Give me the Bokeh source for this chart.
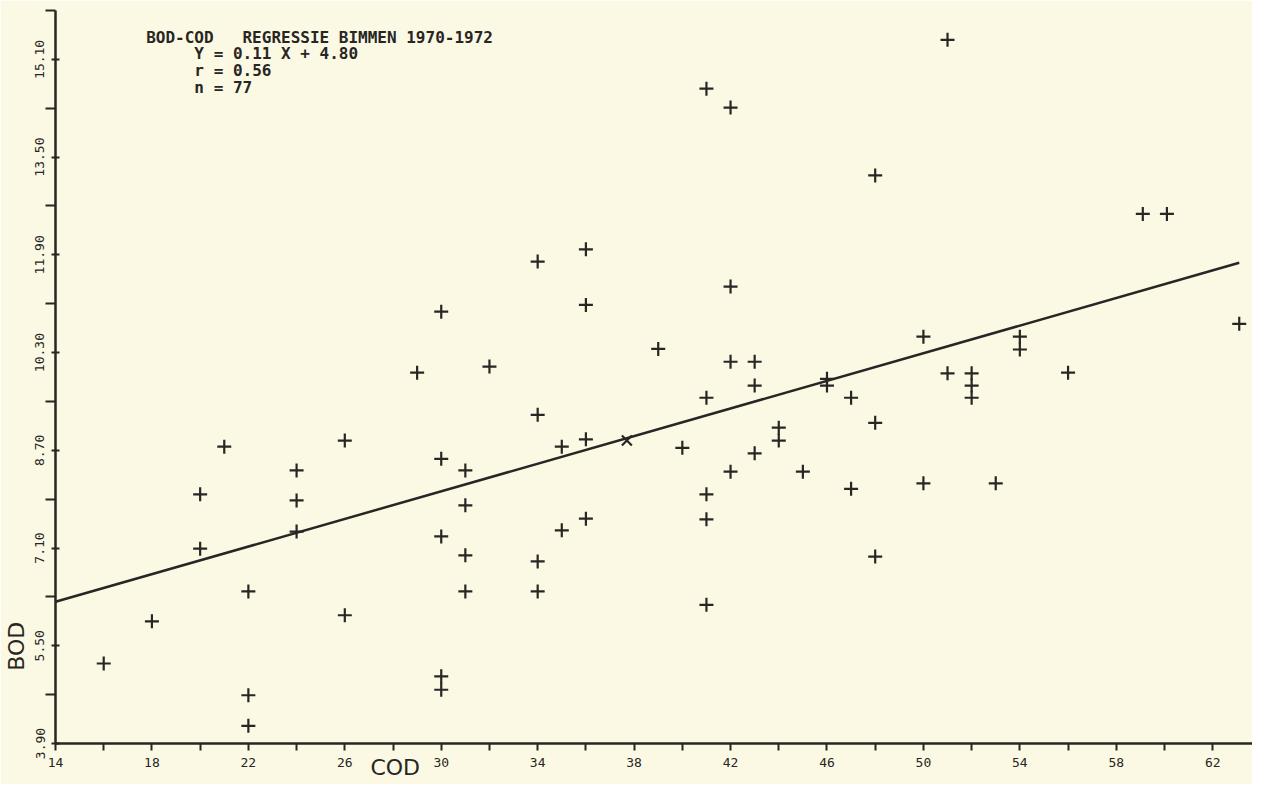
from bokeh.plotting import figure
from bokeh.models import FixedTicker, Label, Range1d, PrintfTickFormatter
from bokeh.embed import file_html
from bokeh.resources import INLINE

# ---- data ----
cod = [16.0, 18.0, 20.0, 20.0, 21.0, 22.0, 22.0, 22.0, 24.0, 24.0,
       24.0, 26.0, 26.0, 29.0, 30.0, 30.0, 30.0, 30.0, 30.0, 31.0,
       31.0, 31.0, 31.0, 32.0, 34.0, 34.0, 34.0, 34.0, 35.0, 35.0,
       36.0, 36.0, 36.0, 36.0, 39.0, 40.0, 41.0, 41.0, 41.0, 41.0,
       41.0, 42.0, 42.0, 42.0, 42.0, 43.0, 43.0, 43.0, 44.0, 44.0,
       45.0, 46.0, 46.0, 47.0, 47.0, 48.0, 48.0, 48.0, 50.0, 50.0,
       51.0, 51.0, 52.0, 52.0, 52.0, 53.0, 54.0, 54.0, 56.0, 59.1,
       60.1, 63.1]
bod = [5.21, 5.90, 7.09, 7.98, 8.76, 6.39, 4.69, 4.19, 8.37, 7.88,
       7.37, 8.86, 6.00, 9.97, 10.97, 8.56, 7.29, 5.00, 4.78, 8.37,
       7.80, 6.98, 6.39, 10.07, 11.79, 9.28, 6.88, 6.39, 8.76, 7.39,
       11.99, 11.08, 8.88, 7.58, 10.36, 8.74, 14.62, 9.56, 7.98, 7.57,
       6.17, 14.31, 11.38, 10.15, 8.35, 10.15, 9.76, 8.65, 9.07, 8.86,
       8.35, 9.87, 9.76, 9.56, 8.07, 13.20, 9.15, 6.96, 10.56, 8.16,
       15.42, 9.96, 9.96, 9.76, 9.56, 8.16, 10.56, 10.35, 9.97, 12.57,
       12.57, 10.77]

mean_cod = [37.7]
mean_bod = [8.86]

reg_cod = [14.0, 63.1]
reg_bod = [6.22, 11.77]

x_major = [14, 18, 22, 26, 30, 34, 38, 42, 46, 50, 54, 58, 62]
x_minor = [16, 20, 24, 28, 32, 36, 40, 44, 48, 52, 56, 60, 64]
y_major = [3.9, 5.5, 7.1, 8.7, 10.3, 11.9, 13.5, 15.1]
y_minor = [4.7, 6.3, 7.9, 9.5, 11.1, 12.7, 14.3, 15.9]

NB = "\u00a0"
title_lines = ["BOD-COD" + NB * 3 + "REGRESSIE BIMMEN 1970-1972",
               "Y = 0.11 X + 4.80",
               "r = 0.56",
               "n = 77"]
x_title = "COD"
y_title = "BOD"

INK = "#272623"
BG = "#fbf9e4"
MONO = "DejaVu Sans Mono"

p = figure(width=1252, height=784, output_backend="svg", toolbar_location=None,
           x_range=Range1d(14, 63.65), y_range=Range1d(3.9, 15.9),
           min_border_left=55, min_border_right=0, min_border_top=10,
           min_border_bottom=41,
           background_fill_color=BG, border_fill_color=BG,
           outline_line_color=None)
p.grid.visible = False

xa = p.xaxis[0]
xa.ticker = FixedTicker(ticks=x_major, minor_ticks=x_minor)
xa.axis_line_color = INK
xa.axis_line_width = 2.5
xa.major_tick_line_color = INK
xa.major_tick_line_width = 2
xa.major_tick_out = 7
xa.major_tick_in = 0
xa.minor_tick_line_color = INK
xa.minor_tick_line_width = 2
xa.minor_tick_out = 7
xa.minor_tick_in = 0
xa.major_label_text_font = MONO
xa.major_label_text_font_size = "13px"
xa.major_label_text_color = INK
xa.major_label_standoff = 7
# axis title placed left of centre by trailing no-break spaces
xa.axis_label = x_title + NB * 74
xa.axis_label_standoff = -15
xa.axis_label_text_font = "DejaVu Sans"
xa.axis_label_text_font_style = "normal"
xa.axis_label_text_font_size = "22px"
xa.axis_label_text_color = INK

ya = p.yaxis[0]
ya.ticker = FixedTicker(ticks=y_major, minor_ticks=y_minor)
ya.formatter = PrintfTickFormatter(format="%.2f")
ya.axis_line_color = INK
ya.axis_line_width = 2.5
ya.major_tick_line_color = INK
ya.major_tick_line_width = 2
ya.major_tick_out = 4
ya.major_tick_in = 4
ya.minor_tick_line_color = INK
ya.minor_tick_line_width = 2
ya.minor_tick_out = 10
ya.minor_tick_in = 0
ya.major_label_orientation = "vertical"
ya.major_label_text_font = MONO
ya.major_label_text_font_size = "13px"
ya.major_label_text_color = INK
ya.major_label_standoff = 1
ya.axis_label = y_title + NB * 77
ya.axis_label_standoff = 4
ya.axis_label_text_font = "DejaVu Sans"
ya.axis_label_text_font_style = "normal"
ya.axis_label_text_font_size = "22px"
ya.axis_label_text_color = INK

p.line(reg_cod, reg_bod, line_color=INK, line_width=2.5)
p.scatter(cod, bod, marker="cross", size=14, line_color=INK, line_width=2.2)
p.scatter(mean_cod, mean_bod, marker="x", size=14, line_color=INK, line_width=2.2)

# annotation block
ann_pos = [(17.76, 15.46), (19.76, 15.20), (19.76, 14.92), (19.76, 14.64)]
for (tx, ty), txt in zip(ann_pos, title_lines):
    p.add_layout(Label(x=tx, y=ty, text=txt, text_align="left",
                       text_baseline="middle", text_font=MONO,
                       text_font_style="bold", text_font_size="16px",
                       text_color=INK))

open("out.html", "w").write(file_html(p, INLINE))
